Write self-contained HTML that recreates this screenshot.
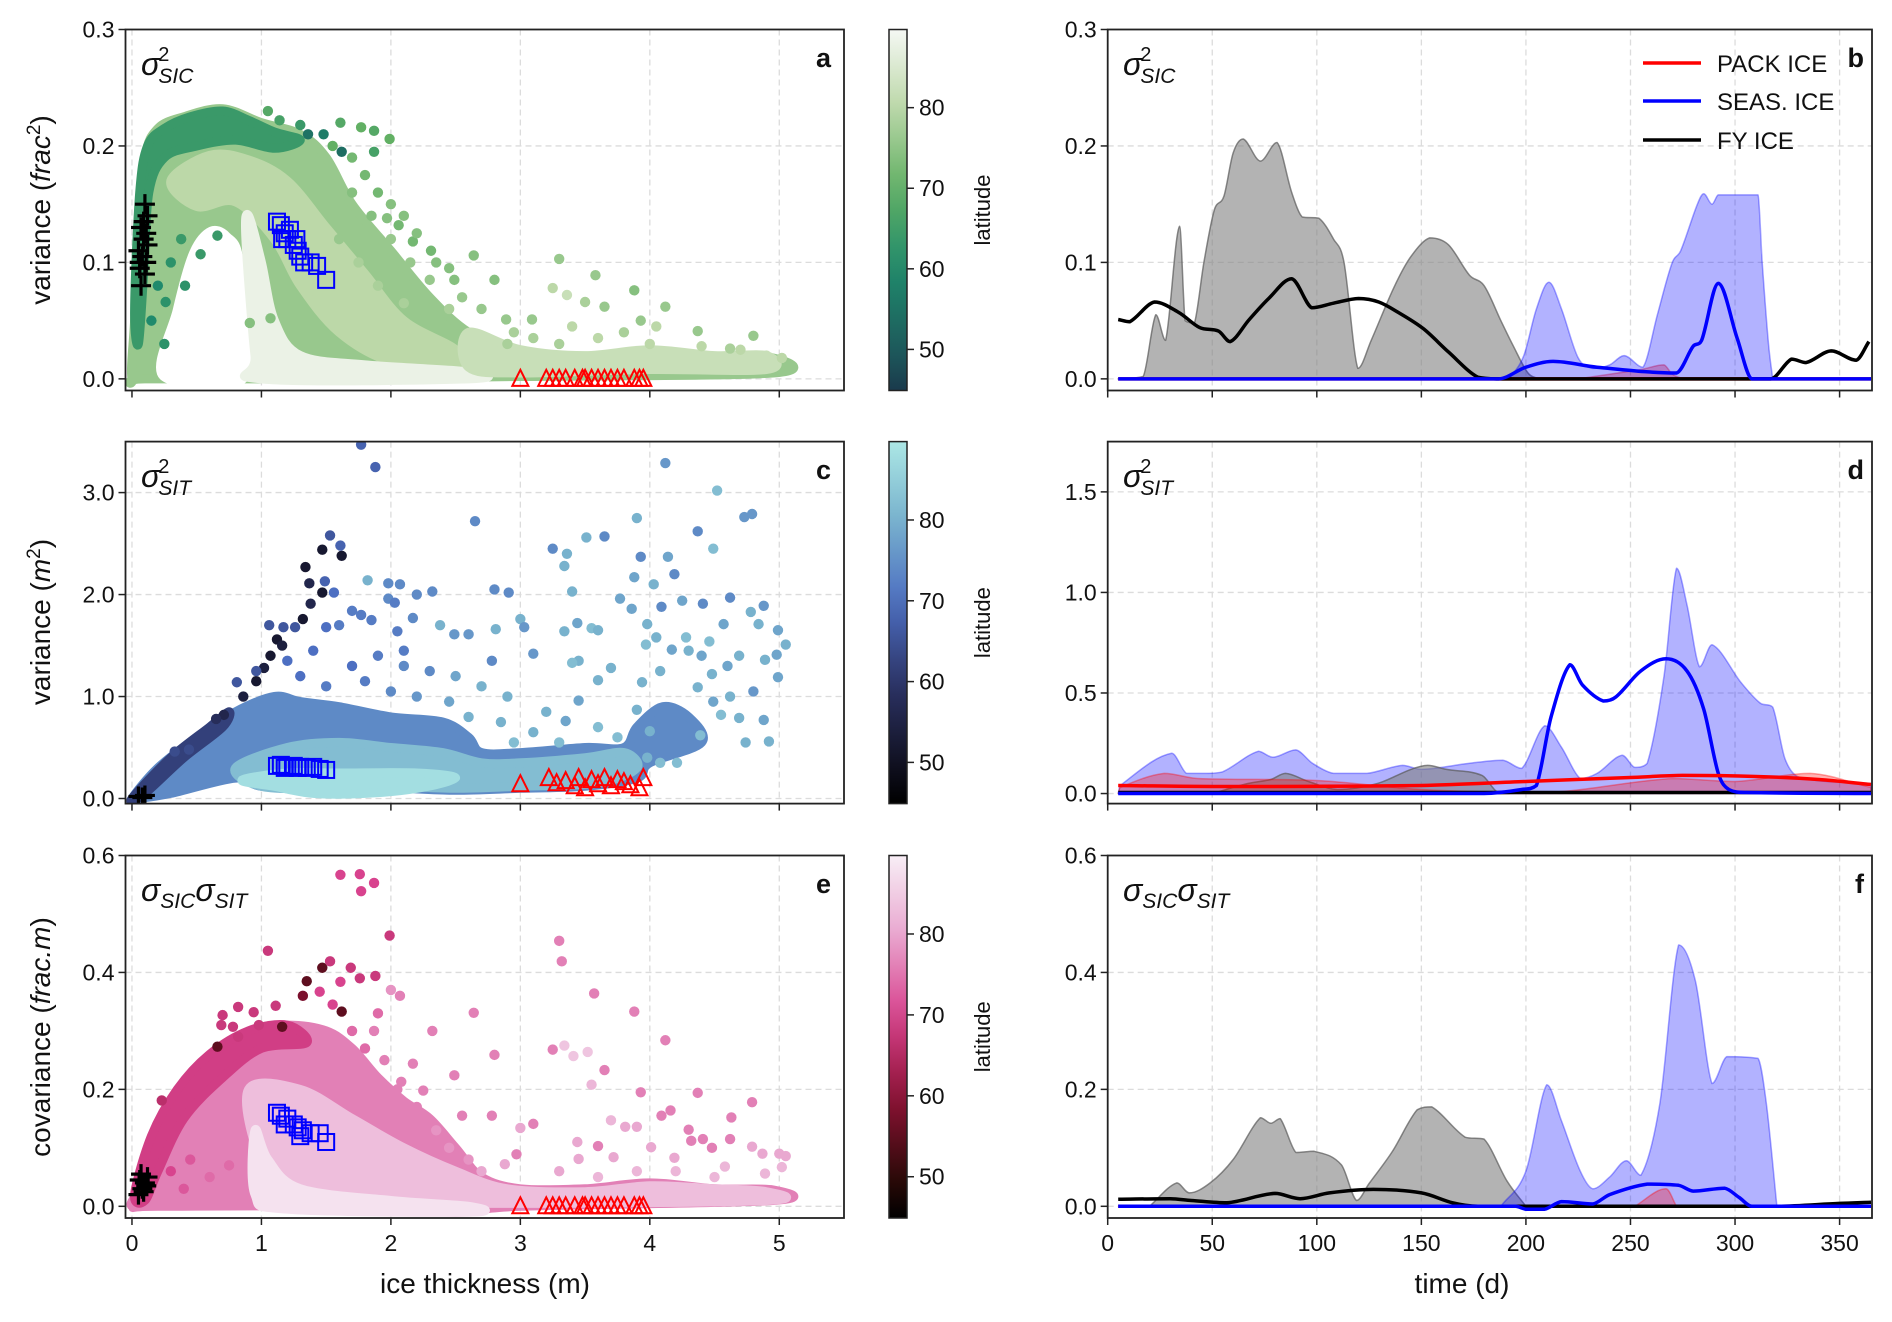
<!DOCTYPE html>
<html><head><meta charset="utf-8">
<style>
html,body{margin:0;padding:0;background:#fff;}
svg{display:block;font-family:"Liberation Sans","DejaVu Sans",sans-serif;}
</style></head>
<body>
<svg id="fig" width="1892" height="1322" viewBox="0 0 1892 1322" xmlns="http://www.w3.org/2000/svg"></svg>
<script>
// ---------------- DATA ----------------
const aPoints=[[1.05,0.23,68],[1.14,0.222,66],[1.3,0.218,64],[1.61,0.22,68],[1.77,0.216,70],[1.87,0.213,68],[1.99,0.206,70],[1.87,0.195,66],[1.36,0.21,55],[1.48,0.21,57],[1.62,0.195,54],[2.64,0.106,74],[2.49,0.085,74],[2.8,0.085,74],[2.31,0.11,72],[2.17,0.118,72],[2.06,0.132,72],[1.97,0.138,74],[3.3,0.103,76],[3.58,0.089,76],[3.88,0.076,74],[3.5,0.066,78],[3.25,0.078,80],[3.36,0.072,82],[3.65,0.062,76],[4.12,0.062,76],[3.93,0.05,76],[3.09,0.051,76],[2.89,0.051,76],[4.37,0.041,76],[4.8,0.037,76],[4.62,0.026,78],[5.02,0.018,80],[0.91,0.048,74],[1.07,0.052,74],[0.41,0.08,62],[0.26,0.066,62],[0.53,0.107,64],[0.66,0.123,64],[3.3,0.03,78],[3.6,0.035,80],[4.0,0.03,80],[4.4,0.028,80],[4.9,0.02,82],[2.9,0.03,78],[3.8,0.04,78],[4.6,0.015,82],[1.55,0.2,70],[1.7,0.19,72],[1.8,0.175,72],[1.9,0.16,72],[2.0,0.15,74],[2.1,0.14,74],[2.2,0.125,74],[2.35,0.1,74],[2.45,0.095,74],[2.55,0.07,76],[2.7,0.06,76],[2.95,0.04,78],[3.1,0.035,78],[1.7,0.16,74],[1.85,0.14,74],[2.0,0.12,76],[2.15,0.1,76],[2.3,0.085,76],[2.45,0.06,78],[1.6,0.12,76],[1.75,0.1,78],[1.9,0.08,78],[2.1,0.065,78],[0.3,0.1,62],[0.2,0.08,60],[0.15,0.05,60],[0.25,0.03,62],[0.38,0.12,64],[4.2,0.02,82],[4.7,0.025,80],[3.4,0.045,80],[4.05,0.045,80]];
const aCloudLat=[76,64,80,0,88,82];
const aClouds=[
[[0,0],[0.02,0.05],[0.05,0.12],[0.1,0.19],[0.2,0.215],[0.4,0.225],[0.7,0.232],[1.0,0.22],[1.3,0.21],[1.5,0.19],[1.7,0.15],[2.0,0.11],[2.3,0.07],[2.6,0.04],[3.0,0.02],[3.5,0.015],[4.0,0.015],[4.5,0.015],[4.95,0.018],[4.95,0.005],[3.0,0.002],[1.2,0.0],[0.1,0.0]],
[[0.02,0.06],[0.06,0.16],[0.12,0.2],[0.25,0.215],[0.45,0.225],[0.7,0.23],[0.9,0.222],[1.1,0.212],[1.3,0.205],[1.1,0.198],[0.8,0.205],[0.5,0.2],[0.25,0.19],[0.13,0.16],[0.09,0.09],[0.05,0.03]],
[[0.3,0.17],[0.6,0.192],[0.9,0.188],[1.2,0.17],[1.5,0.13],[1.8,0.09],[2.1,0.05],[2.5,0.025],[2.5,0.01],[2.0,0.015],[1.6,0.04],[1.3,0.08],[1.1,0.12],[0.8,0.152],[0.5,0.148]],
[[0.22,0.0],[0.32,0.06],[0.45,0.11],[0.6,0.13],[0.75,0.125],[0.86,0.1],[0.9,0.0]],
[[0.9,0.14],[1.0,0.1],[1.1,0.05],[1.3,0.02],[1.8,0.012],[2.6,0.006],[2.6,0],[1.0,0],[0.95,0.02],[0.88,0.12]],
[[2.6,0.04],[3.0,0.025],[3.5,0.02],[4.0,0.025],[4.5,0.02],[4.9,0.02],[4.9,0.008],[4.0,0.008],[3.0,0.005],[2.6,0.01]]];
const aPlus=[[0.07,0.08],[0.1,0.09],[0.06,0.095],[0.11,0.1],[0.08,0.105],[0.05,0.11],[0.12,0.115],[0.09,0.12],[0.11,0.125],[0.07,0.13],[0.12,0.14],[0.1,0.15],[0.06,0.1],[0.09,0.135]];
const aSquares=[[1.12,0.135],[1.15,0.132],[1.18,0.125],[1.2,0.12],[1.22,0.128],[1.25,0.115],[1.28,0.11],[1.3,0.105],[1.33,0.1],[1.38,0.1],[1.43,0.097],[1.5,0.085],[1.27,0.12],[1.16,0.12]];
const aTriangles=[[3.0,0],[3.2,0],[3.25,0],[3.3,0],[3.35,0],[3.42,0],[3.48,0],[3.5,0],[3.55,0],[3.6,0],[3.65,0],[3.7,0],[3.75,0],[3.8,0],[3.88,0],[3.92,0],[3.95,0]];

const cPoints=[[1.77,3.47,68],[1.88,3.25,68],[4.12,3.29,76],[4.52,3.02,82],[4.73,2.76,76],[4.79,2.79,76],[2.65,2.72,74],[3.9,2.75,80],[3.51,2.56,80],[3.65,2.57,74],[3.25,2.45,74],[3.36,2.4,80],[3.34,2.28,80],[4.37,2.62,74],[4.49,2.45,82],[3.93,2.37,74],[4.14,2.37,78],[4.19,2.2,74],[3.88,2.17,78],[4.03,2.1,80],[3.4,2.03,80],[3.77,1.96,78],[3.86,1.86,78],[4.09,1.88,74],[4.25,1.94,78],[4.41,1.91,74],[4.62,1.97,74],[4.88,1.89,76],[4.78,1.83,80],[4.99,1.65,78],[5.05,1.51,80],[4.98,1.41,78],[4.89,1.36,80],[4.99,1.19,78],[4.69,1.4,80],[4.6,1.3,78],[4.48,1.22,80],[4.4,1.4,78],[4.37,1.09,80],[4.8,1.05,76],[4.62,1.0,80],[4.49,0.95,78],[4.69,0.79,80],[4.88,0.77,78],[4.74,0.55,80],[4.92,0.56,80],[4.55,0.82,82],[4.39,0.62,82],[4.21,0.35,82],[4.08,0.35,82],[3.98,0.4,80],[4.0,0.66,80],[3.9,0.87,80],[3.94,1.14,80],[4.08,1.25,80],[3.97,1.51,82],[4.05,1.58,80],[4.17,1.46,78],[4.3,1.45,80],[4.46,1.54,82],[4.57,1.71,78],[4.84,1.71,80],[4.28,1.58,82],[3.98,1.71,80],[3.44,1.72,78],[3.55,1.67,82],[3.6,1.65,80],[3.34,1.64,80],[3.45,1.35,80],[3.4,1.33,82],[3.6,1.16,80],[3.7,1.28,80],[3.45,0.96,78],[3.35,0.76,78],[3.0,1.76,80],[3.03,1.68,76],[3.1,1.42,76],[2.81,1.66,80],[2.78,1.35,74],[2.91,2.02,74],[2.8,2.05,74],[2.6,1.61,76],[2.49,1.61,76],[2.38,1.7,80],[2.32,2.03,74],[2.2,2.0,74],[2.07,2.1,74],[1.98,2.11,74],[1.98,1.96,74],[2.03,1.92,72],[2.17,1.77,74],[2.05,1.64,72],[1.82,2.14,80],[1.47,2.44,52],[1.62,2.38,52],[1.34,2.27,52],[1.37,2.11,56],[1.47,2.02,52],[1.38,1.91,56],[1.32,1.76,52],[1.12,1.56,52],[1.16,1.5,54],[1.07,1.4,52],[1.02,1.28,54],[0.96,1.15,52],[0.86,1.0,54],[0.71,0.82,56],[0.65,0.78,58],[1.53,2.58,66],[1.61,2.48,68],[1.49,2.13,68],[1.56,2.02,70],[1.06,1.7,66],[1.17,1.68,66],[1.26,1.68,66],[1.5,1.68,70],[1.6,1.7,72],[1.7,1.84,72],[1.77,1.8,72],[1.85,1.75,72],[0.81,1.14,66],[0.96,1.25,66],[0.33,0.46,64],[0.44,0.48,64],[2.1,1.3,74],[2.3,1.25,74],[2.5,1.2,78],[2.7,1.1,80],[2.9,1.0,80],[2.1,1.45,72],[1.9,1.4,72],[1.7,1.3,70],[2.45,0.95,78],[2.6,0.8,80],[1.3,1.2,70],[1.5,1.1,72],[1.2,1.35,70],[1.4,1.45,70],[1.8,1.15,72],[2.0,1.05,74],[2.2,1.0,76],[2.85,0.75,80],[3.1,0.65,80],[3.2,0.85,80],[2.95,0.55,82],[3.3,0.55,82],[3.6,0.7,82],[3.75,0.6,82]];
const cCloudLat=[74,82,88,62];
const cClouds=[
[[0,0],[0.2,0.3],[0.5,0.6],[0.8,0.85],[1.1,1.0],[1.3,0.95],[1.6,0.9],[2.0,0.8],[2.4,0.75],[2.6,0.6],[2.7,0.45],[3.0,0.45],[3.5,0.5],[3.8,0.5],[3.9,0.7],[4.1,0.9],[4.3,0.8],[4.4,0.55],[4.0,0.35],[3.9,0.2],[3.5,0.12],[3.0,0.1],[2.5,0.08],[2.0,0.1],[1.5,0.08],[1.0,0.12],[0.8,0.2],[0.3,0.05],[0.05,0]],
[[0.8,0.3],[1.2,0.5],[1.6,0.55],[2.0,0.5],[2.4,0.45],[2.7,0.35],[3.0,0.35],[3.5,0.4],[3.8,0.45],[3.9,0.3],[3.6,0.15],[3.0,0.12],[2.5,0.1],[2.0,0.12],[1.5,0.1],[1.0,0.12]],
[[0.85,0.18],[1.1,0.12],[1.4,0.05],[1.8,0.05],[2.2,0.1],[2.5,0.2],[2.2,0.25],[1.6,0.25],[1.2,0.25]],
[[0.0,0.0],[0.3,0.4],[0.6,0.7],[0.75,0.85],[0.7,0.7],[0.4,0.4],[0.1,0.05]]];
const cPlus=[[0.05,0.02],[0.1,0.03],[0.08,0.01]];
const cSquares=[[1.12,0.32],[1.15,0.33],[1.18,0.3],[1.2,0.31],[1.25,0.32],[1.28,0.3],[1.3,0.31],[1.35,0.3],[1.4,0.31],[1.45,0.29],[1.5,0.28]];
const cTriangles=[[3.0,0.14],[3.22,0.2],[3.28,0.15],[3.35,0.17],[3.42,0.12],[3.45,0.2],[3.5,0.1],[3.55,0.18],[3.6,0.14],[3.65,0.2],[3.7,0.12],[3.75,0.18],[3.8,0.16],[3.85,0.13],[3.95,0.2],[3.92,0.1]];

const ePoints=[[1.61,0.567,70],[1.76,0.568,70],[1.77,0.539,70],[1.87,0.553,70],[1.99,0.463,68],[1.05,0.437,68],[3.3,0.454,76],[3.32,0.419,76],[3.57,0.364,76],[3.88,0.333,76],[4.12,0.284,76],[2.64,0.331,76],[2.32,0.3,76],[2.8,0.259,76],[3.25,0.268,76],[3.34,0.275,84],[3.41,0.257,84],[3.52,0.264,84],[3.65,0.233,76],[3.55,0.208,82],[3.93,0.195,76],[4.37,0.194,76],[4.79,0.178,76],[4.16,0.164,76],[4.09,0.155,76],[4.63,0.152,76],[4.3,0.131,76],[3.7,0.147,82],[3.81,0.136,80],[3.9,0.136,80],[4.32,0.112,76],[4.41,0.115,76],[4.62,0.115,76],[4.79,0.102,80],[4.48,0.1,76],[5.0,0.09,80],[5.05,0.086,80],[4.87,0.09,80],[3.6,0.103,76],[4.01,0.101,80],[3.44,0.11,80],[3.45,0.081,80],[4.19,0.083,80],[3.72,0.084,80],[3.0,0.134,80],[3.1,0.141,76],[2.78,0.155,76],[2.55,0.155,76],[2.49,0.224,76],[2.17,0.244,76],[2.25,0.198,76],[2.08,0.213,76],[2.97,0.089,76],[2.88,0.072,80],[4.89,0.056,82],[5.02,0.067,82],[4.58,0.068,82],[1.47,0.408,55],[1.35,0.385,55],[1.32,0.36,58],[1.16,0.307,55],[1.11,0.343,68],[0.66,0.273,55],[0.82,0.29,68],[0.98,0.31,68],[0.23,0.181,66],[1.62,0.333,55],[1.53,0.419,68],[1.69,0.408,68],[1.76,0.39,68],[1.88,0.394,68],[1.61,0.384,70],[1.45,0.367,70],[1.55,0.345,70],[0.7,0.327,68],[0.82,0.341,68],[0.69,0.31,68],[0.78,0.307,68],[0.94,0.332,68],[1.9,0.33,74],[2.0,0.37,78],[2.07,0.36,76],[1.87,0.3,76],[1.7,0.3,74],[1.8,0.27,74],[1.95,0.25,76],[2.05,0.2,76],[2.2,0.17,76],[2.35,0.13,78],[2.45,0.1,78],[2.6,0.08,78],[2.7,0.06,80],[0.3,0.06,70],[0.45,0.08,72],[0.6,0.05,74],[0.75,0.07,74],[0.4,0.03,72],[3.3,0.06,80],[3.6,0.05,82],[4.2,0.06,82],[4.5,0.05,82],[3.9,0.06,82]];
const eCloudLat=[76,69,83,88];
const eClouds=[
[[0,0],[0.05,0.03],[0.2,0.12],[0.4,0.2],[0.6,0.25],[0.9,0.3],[1.2,0.31],[1.5,0.3],[1.7,0.27],[1.9,0.22],[2.1,0.18],[2.3,0.15],[2.5,0.1],[2.7,0.05],[3.0,0.03],[3.5,0.03],[4.0,0.04],[4.5,0.03],[4.95,0.028],[4.95,0.01],[3,0.0],[2.5,-0.01],[1.5,0.0],[0.2,0.0]],
[[0.02,0.02],[0.15,0.12],[0.35,0.2],[0.6,0.26],[0.9,0.3],[1.2,0.31],[1.35,0.28],[1.0,0.27],[0.7,0.22],[0.4,0.15],[0.2,0.06],[0.1,0.01]],
[[0.9,0.2],[1.3,0.2],[1.7,0.15],[2.1,0.1],[2.5,0.06],[2.9,0.03],[3.5,0.025],[4.0,0.035],[4.5,0.03],[4.9,0.025],[4.9,0.01],[3.0,0.005],[2.0,0.01],[1.3,0.03],[1.0,0.08]],
[[0.95,0.13],[1.05,0.08],[1.3,0.03],[2.0,0.01],[2.6,0.0],[2.6,-0.01],[1.2,-0.005],[0.95,0.02]]];
const ePlus=[[0.05,0.02],[0.08,0.03],[0.1,0.04],[0.06,0.045],[0.12,0.05],[0.09,0.025],[0.11,0.035],[0.07,0.055]];
const eSquares=[[1.12,0.16],[1.15,0.155],[1.2,0.15],[1.25,0.14],[1.28,0.135],[1.32,0.13],[1.38,0.125],[1.45,0.125],[1.5,0.11],[1.18,0.14],[1.3,0.12]];
const eTriangles=aTriangles;

const bGrayDays=[5,17,23,27.7,34.4,37,41.5,46,51,55.6,60,64.8,73,81,88,93,101,108,113,119.6,126,137,145,154,163,173,180,188,194,201,206];
const bGrayVals=[0,0.002,0.055,0.033,0.131,0.05,0.048,0.1,0.145,0.157,0.194,0.206,0.187,0.203,0.16,0.139,0.138,0.12,0.1,0.009,0.033,0.079,0.105,0.121,0.115,0.089,0.08,0.05,0.028,0.005,0];
const bBlueDays=[192,199,205,211,217,225,232,240,247,256,263,270,274,282,285,289,292,311,313,316,318];
const bBlueVals=[0,0.02,0.06,0.083,0.06,0.018,0.009,0.012,0.02,0.01,0.056,0.1,0.11,0.15,0.159,0.15,0.158,0.158,0.1,0.03,0];
const bRedDays=[225,240,255,266,270,275];
const bRedVals=[0,0.004,0.008,0.012,0.004,0];
const bBlackDays=[5,10.5,22.4,34,44,53,58.6,67.7,77,88,97.5,108,120,129.6,139,151,163,177,187,317,327,334,346,358,364];
const bBlackVals=[0.051,0.049,0.066,0.057,0.044,0.041,0.032,0.051,0.069,0.086,0.061,0.065,0.069,0.066,0.057,0.043,0.023,0.0014,0,0,0.017,0.014,0.024,0.016,0.032];
const bBlueLineDays=[5,187,200,213,234,272,280,284,292,301,308,365];
const bBlueLineVals=[0,0,0.01,0.015,0.01,0.005,0.028,0.033,0.082,0.035,0,0];
const bRedLineDays=[5,365];
const bRedLineVals=[0,0];

const dBlueDays=[5,6,30.6,37.7,47,55,72,79,90,98,108,124,141,150,174,189,198,209,217,226,234,246,252,258,266,272,277,283,289,303,312,318,324,331,365];
const dBlueVals=[0,0.04,0.2,0.1,0.1,0.108,0.21,0.18,0.217,0.15,0.1,0.1,0.14,0.12,0.152,0.166,0.125,0.337,0.23,0.075,0.1,0.19,0.13,0.15,0.58,1.12,0.94,0.63,0.74,0.55,0.45,0.43,0.17,0.08,0.05];
const dGrayDays=[50,67,78,85,96,110,129,145,153,162,179,186,192];
const dGrayVals=[0,0.05,0.07,0.1,0.06,0.02,0.05,0.12,0.14,0.12,0.09,0.01,0];
const dRedDays=[5,6,27,43,100,150,210,270,300,336,365];
const dRedVals=[0,0.03,0.1,0.075,0.065,0.02,0.005,0.075,0.06,0.1,0.03];
const dRedLineDays=[5,50,150,200,250,275,310,340,365];
const dRedLineVals=[0.04,0.035,0.04,0.06,0.08,0.09,0.085,0.07,0.045];
const dBlueLineDays=[5,180,198,205,212,221,227,237,243,255,267,277,285,292,297,305,365];
const dBlueLineVals=[0,0,0.02,0.04,0.38,0.64,0.54,0.46,0.48,0.61,0.67,0.61,0.42,0.1,0.02,0.005,0];
const dBlackDays=[5,365];
const dBlackVals=[0.005,0.005];

const fGrayDays=[20,33,39,49,60,73,78,82.5,90,98.7,111.7,119,125,136,148,155,171,180,191,200];
const fGrayVals=[0,0.04,0.023,0.04,0.08,0.1515,0.142,0.15,0.092,0.094,0.071,0.01,0.039,0.093,0.165,0.17,0.118,0.115,0.043,0];
const fBlueDays=[188,200,210,217,226,232,240,248,255,264,273,281,289,296,311,315,320];
const fBlueVals=[0,0.06,0.208,0.146,0.06,0.03,0.05,0.078,0.053,0.175,0.447,0.386,0.21,0.256,0.253,0.175,0];
const fRedDays=[252,267,272];
const fRedVals=[0,0.03,0];
const fBlackDays=[5,30,40,57,80,92,106,127,150,165,177,320,350,365];
const fBlackVals=[0.012,0.013,0.01,0.006,0.022,0.013,0.023,0.029,0.023,0.006,0,0,0.005,0.007];
const fBlueLineDays=[5,195,200,209,217,232,240,258,273,280,295,302,308,365];
const fBlueLineVals=[0,0,-0.005,-0.005,0.008,0.004,0.02,0.038,0.036,0.026,0.031,0.015,0,0];
const fRedLineDays=[5,365];
const fRedLineVals=[0,0];

const leftXTicks=[0,1,2,3,4,5];
const rightXTicks=[0,50,100,150,200,250,300,350];
const cbTicks=[80,70,60,50];

// ---------------- RENDER ----------------
const NS='http://www.w3.org/2000/svg';
const svg=document.getElementById('fig');
function el(tag,attrs,parent){const e=document.createElementNS(NS,tag);for(const k in attrs)e.setAttribute(k,attrs[k]);(parent||svg).appendChild(e);return e;}
function lerp(a,b,t){return a+(b-a)*t;}
function hex(c){return [parseInt(c.slice(1,3),16),parseInt(c.slice(3,5),16),parseInt(c.slice(5,7),16)];}
function cmapFn(stops){return function(v){for(let i=0;i<stops.length-1;i++){const[a,ca]=stops[i],[b,cb]=stops[i+1];if(v<=b||i===stops.length-2){let t=Math.max(0,Math.min(1,(v-a)/(b-a)));const A=hex(ca),B=hex(cb);return 'rgb('+A.map((x,j)=>Math.round(lerp(x,B[j],t))).join(',')+')';}}};}
const cmapGreen=cmapFn([[45,'#1a3a4c'],[50,'#1d5a5c'],[60,'#1f8a6c'],[70,'#62b064'],[80,'#bcd8a8'],[90,'#f7f9f6']]);
const cmapBlue=cmapFn([[45,'#000000'],[50,'#111122'],[60,'#2d3468'],[70,'#4d6fc2'],[80,'#78b2cd'],[90,'#aee9e6']]);
const cmapPink=cmapFn([[45,'#000000'],[50,'#2e0a08'],[60,'#8e1236'],[70,'#d8438e'],[80,'#e9a8d0'],[90,'#f8f0f7']]);

const LX0=125.5,LX1=844,RX0=1107.7,RX1=1872;
const rows=[{t:29.5,b:390.5},{t:441.6,b:803.6},{t:855.5,b:1218}];
function scaleX(lo,hi,p0,p1){return v=>p0+(v-lo)/(hi-lo)*(p1-p0);}
function scaleY(lo,hi,p0,p1){return v=>p1-(v-lo)/(hi-lo)*(p1-p0);}

function smoothPath(P,closed){
  const n=P.length;if(n<3)return P.map((p,i)=>(i?'L':'M')+p[0].toFixed(1)+','+p[1].toFixed(1)).join('')+(closed?'Z':'');
  const get=i=>closed?P[(i+n)%n]:P[Math.max(0,Math.min(n-1,i))];
  let d='M'+P[0][0].toFixed(1)+','+P[0][1].toFixed(1);const k=closed?n:n-1;
  for(let i=0;i<k;i++){const p0=get(i-1),p1=get(i),p2=get(i+1),p3=get(i+2);
    const c1=[p1[0]+(p2[0]-p0[0])/6,p1[1]+(p2[1]-p0[1])/6],c2=[p2[0]-(p3[0]-p1[0])/6,p2[1]-(p3[1]-p1[1])/6];
    d+='C'+c1[0].toFixed(1)+','+c1[1].toFixed(1)+' '+c2[0].toFixed(1)+','+c2[1].toFixed(1)+' '+p2[0].toFixed(1)+','+p2[1].toFixed(1);}
  return d+(closed?'Z':'');
}
function seriesPath(P){
  let d='M'+P[0][0].toFixed(1)+','+P[0][1].toFixed(1);
  for(let i=0;i<P.length-1;i++){const p0=P[Math.max(0,i-1)],p1=P[i],p2=P[i+1],p3=P[Math.min(P.length-1,i+2)];
    const dx=p2[0]-p1[0];
    let m1=(p2[1]-p0[1])/((p2[0]-p0[0])||1),m2=(p3[1]-p1[1])/((p3[0]-p1[0])||1);const s=(p2[1]-p1[1])/(dx||1);
    if(s===0||m1*s<=0)m1=0;if(s===0||m2*s<=0)m2=0;
    m1=Math.sign(m1)*Math.min(Math.abs(m1),3*Math.abs(s));m2=Math.sign(m2)*Math.min(Math.abs(m2),3*Math.abs(s));
    d+='C'+(p1[0]+dx/3).toFixed(1)+','+(p1[1]+m1*dx/3).toFixed(1)+' '+(p2[0]-dx/3).toFixed(1)+','+(p2[1]-m2*dx/3).toFixed(1)+' '+p2[0].toFixed(1)+','+p2[1].toFixed(1);}
  return d;
}

function axesFrame(name,x0,x1,t,b,xs,ys,xt,yt,ydec,showXLabels){
  const g=el('g',{});
  
  
  const cid='clip-'+name;
  const cp=el('clipPath',{id:cid},g);el('rect',{x:x0,y:t,width:x1-x0,height:b-t},cp);
  xt.forEach(v=>{el('line',{x1:xs(v),x2:xs(v),y1:t,y2:b,stroke:'#dcdcdc','stroke-width':1.3,'stroke-dasharray':'6,4'},g);});
  yt.forEach(v=>{el('line',{x1:x0,x2:x1,y1:ys(v),y2:ys(v),stroke:'#dcdcdc','stroke-width':1.3,'stroke-dasharray':'6,4'},g);});
  const plot=el('g',{'clip-path':'url(#'+cid+')'},g);
  return {g,plot,finish:function(){
    el('rect',{x:x0,y:t,width:x1-x0,height:b-t,fill:'none',stroke:'#222','stroke-width':1.8},g);
    xt.forEach(v=>{el('line',{x1:xs(v),x2:xs(v),y1:b,y2:b+7,stroke:'#222','stroke-width':1.5},g);
      if(showXLabels){const tx=el('text',{x:xs(v),y:b+33,'font-size':23,'text-anchor':'middle',fill:'#111'},g);tx.textContent=String(v);}});
    yt.forEach(v=>{el('line',{x1:x0-7,x2:x0,y1:ys(v),y2:ys(v),stroke:'#222','stroke-width':1.5},g);
      const tx=el('text',{x:x0-11,y:ys(v)+8,'font-size':23,'text-anchor':'end',fill:'#111'},g);tx.textContent=v.toFixed(ydec);});
  }};
}

function scatterPanel(name,row,ylo,yhi,yt,ydec,cmap,clouds,cloudLat,points,plus,squares,tris,showX){
  const xs=scaleX(-0.05,5.5,LX0,LX1),ys=scaleY(ylo,yhi,rows[row].t,rows[row].b);
  const ax=axesFrame(name,LX0,LX1,rows[row].t,rows[row].b,xs,ys,leftXTicks,yt,ydec,showX);
  clouds.forEach((poly,i)=>{
    const hole=cloudLat[i]===0;
    const col=hole?'#ffffff':cmap(cloudLat[i]);
    const P=poly.map(p=>[xs(p[0]),ys(p[1])]);
    const p=el('path',{d:smoothPath(P,true),fill:col,stroke:col,'stroke-width':hole?1:9,'stroke-linejoin':'round'},ax.plot);
    
    
  });
  points.forEach(p=>{const c=el('circle',{cx:xs(p[0]),cy:ys(p[1]),r:5.2,fill:cmap(p[2])},ax.plot);
    
    });
  plus.forEach(p=>{const x=xs(p[0]),y=ys(p[1]);const m=el('path',{d:`M${x-10},${y}H${x+10}M${x},${y-10}V${y+10}`,stroke:'#000','stroke-width':3.2},ax.plot);
    
    });
  squares.forEach(p=>{const x=xs(p[0]),y=ys(p[1]);const m=el('rect',{x:x-8,y:y-8,width:16,height:16,fill:'none',stroke:'#0000ff','stroke-width':2},ax.plot);
    
    });
  tris.forEach(p=>{const x=xs(p[0]),y=ys(p[1]);const m=el('path',{d:`M${x},${y-9}L${x+8},${y+7}L${x-8},${y+7}Z`,fill:'none',stroke:'#ff0000','stroke-width':2},ax.plot);
    
    });
  ax.finish();
}
function tsPanel(name,row,ylo,yhi,yt,ydec,fills,lines,showX){
  const xs=scaleX(0,365.5,RX0,RX1),ys=scaleY(ylo,yhi,rows[row].t,rows[row].b);
  const ax=axesFrame(name,RX0,RX1,rows[row].t,rows[row].b,xs,ys,rightXTicks,yt,ydec,showX);
  fills.forEach(f=>{const[days,vals,fill,edge,nm]=f;
    const P=days.map((dd,i)=>[xs(dd),ys(vals[i])]);
    const d=seriesPath(P)+'L'+xs(days[days.length-1]).toFixed(1)+','+ys(0).toFixed(1)+'L'+xs(days[0]).toFixed(1)+','+ys(0).toFixed(1)+'Z';
    const p=el('path',{d,fill,stroke:edge,'stroke-width':1.5,'stroke-linejoin':'round'},ax.plot);
    
    });
  lines.forEach(l=>{const[days,vals,col,nm]=l;
    const P=days.map((dd,i)=>[xs(dd),ys(vals[i])]);
    const p=el('path',{d:seriesPath(P),fill:'none',stroke:col,'stroke-width':3.5,'stroke-linejoin':'round'},ax.plot);
    
    });
  ax.finish();
}
const GF='rgba(128,128,128,0.6)',GE='rgba(90,90,90,0.7)',BF='rgba(0,0,255,0.3)',BE='rgba(0,0,255,0.35)',RF='rgba(255,0,0,0.3)',RE='rgba(255,0,0,0.35)';

scatterPanel('panel-a',0,-0.01,0.3,[0,0.1,0.2,0.3],1,cmapGreen,aClouds,aCloudLat,aPoints,aPlus,aSquares,aTriangles,false);
scatterPanel('panel-c',1,-0.05,3.5,[0,1,2,3],1,cmapBlue,cClouds,cCloudLat,cPoints,cPlus,cSquares,cTriangles,false);
scatterPanel('panel-e',2,-0.02,0.6,[0,0.2,0.4,0.6],1,cmapPink,eClouds,eCloudLat,ePoints,ePlus,eSquares,eTriangles,true);

tsPanel('panel-b',0,-0.01,0.3,[0,0.1,0.2,0.3],1,
  [[bGrayDays,bGrayVals,GF,GE,'fy-ice-fill'],[bRedDays,bRedVals,RF,RE,'pack-ice-fill'],[bBlueDays,bBlueVals,BF,BE,'seasonal-ice-fill']],
  [[bRedLineDays,bRedLineVals,'#ff0000','pack-ice-line'],[bBlackDays,bBlackVals,'#000000','fy-ice-line'],[bBlueLineDays,bBlueLineVals,'#0000ff','seasonal-ice-line']],false);
tsPanel('panel-d',1,-0.05,1.75,[0,0.5,1.0,1.5],1,
  [[dBlueDays,dBlueVals,BF,BE,'seasonal-ice-fill'],[dGrayDays,dGrayVals,GF,GE,'fy-ice-fill'],[dRedDays,dRedVals,RF,RE,'pack-ice-fill']],
  [[dBlackDays,dBlackVals,'#000000','fy-ice-line'],[dBlueLineDays,dBlueLineVals,'#0000ff','seasonal-ice-line'],[dRedLineDays,dRedLineVals,'#ff0000','pack-ice-line']],false);
tsPanel('panel-f',2,-0.02,0.6,[0,0.2,0.4,0.6],1,
  [[fGrayDays,fGrayVals,GF,GE,'fy-ice-fill'],[fBlueDays,fBlueVals,BF,BE,'seasonal-ice-fill'],[fRedDays,fRedVals,RF,RE,'pack-ice-fill']],
  [[fRedLineDays,fRedLineVals,'#ff0000','pack-ice-line'],[fBlackDays,fBlackVals,'#000000','fy-ice-line'],[fBlueLineDays,fBlueLineVals,'#0000ff','seasonal-ice-line']],true);

[['colorbar-a',0,cmapGreen],['colorbar-c',1,cmapBlue],['colorbar-e',2,cmapPink]].forEach(([nm,row,cm])=>{
  const t=rows[row].t,b=rows[row].b,x0=889,w=18;const ys=scaleY(44.9,89.7,t,b);
  const g=el('g',{});
  
  
  const gid='grad'+row;const lg=el('linearGradient',{id:gid,x1:0,y1:1,x2:0,y2:0},g);
  for(let i=0;i<=10;i++){el('stop',{offset:i/10,'stop-color':cm(44.9+i*4.48)},lg);}
  el('rect',{x:x0,y:t,width:w,height:b-t,fill:'url(#'+gid+')',stroke:'#222','stroke-width':1.5},g);
  cbTicks.forEach(v=>{el('line',{x1:x0+w,x2:x0+w+7,y1:ys(v),y2:ys(v),stroke:'#222','stroke-width':1.5},g);
    const tx=el('text',{x:x0+w+12,y:ys(v)+8,'font-size':23,fill:'#111'},g);tx.textContent=v;});
  const lt=el('text',{x:0,y:0,'font-size':22,'text-anchor':'middle',fill:'#111',transform:`translate(990,${(t+b)/2}) rotate(-90)`},g);lt.textContent='latitude';
  
  
});

function addText(name,x,y,size,html,opts){const t=el('text',Object.assign({x,y,'font-size':size,fill:'#111'},opts||{}));t.innerHTML=html;
  
  return t;}
addText('y-axis-title-a',0,0,28,'variance (<tspan font-style="italic">frac</tspan><tspan baseline-shift="super" font-size="19">2</tspan>)',{'text-anchor':'middle',transform:'translate(50,210) rotate(-90)'});
addText('y-axis-title-c',0,0,28,'variance (<tspan font-style="italic">m</tspan><tspan baseline-shift="super" font-size="19">2</tspan>)',{'text-anchor':'middle',transform:'translate(50,622) rotate(-90)'});
addText('y-axis-title-e',0,0,28,'covariance (<tspan font-style="italic">frac.m</tspan>)',{'text-anchor':'middle',transform:'translate(50,1037) rotate(-90)'});
addText('x-axis-title-left',485,1293,28,'ice thickness (m)',{'text-anchor':'middle'});
addText('x-axis-title-right',1462,1293,28,'time (d)',{'text-anchor':'middle'});
const sic='<tspan font-style="italic">σ</tspan><tspan font-size="20" dy="-14" dx="-2">2</tspan><tspan font-style="italic" font-size="21" dy="22" dx="-11">SIC</tspan>';
const sit='<tspan font-style="italic">σ</tspan><tspan font-size="20" dy="-14" dx="-2">2</tspan><tspan font-style="italic" font-size="21" dy="22" dx="-11">SIT</tspan>';
const cov='<tspan font-style="italic">σ</tspan><tspan font-style="italic" font-size="21" dy="7">SIC</tspan><tspan font-style="italic" dy="-7">σ</tspan><tspan font-style="italic" font-size="21" dy="7">SIT</tspan>';
addText('annotation-a',141,75,32,sic);
addText('annotation-b',1123,75,32,sic);
addText('annotation-c',141,487,32,sit);
addText('annotation-d',1123,487,32,sit);
addText('annotation-e',141,901,32,cov);
addText('annotation-f',1123,901,32,cov);
[['label-a',831,67,'a'],['label-b',1864,67,'b'],['label-c',831,479,'c'],['label-d',1864,479,'d'],['label-e',831,893,'e'],['label-f',1864,893,'f']].forEach(([n,x,y,s])=>addText(n,x,y,27,s,{'text-anchor':'end','font-weight':'bold'}));
const leg=el('g',{});


[['PACK ICE','#ff0000',63],['SEAS. ICE','#0000ff',101],['FY ICE','#000000',140]].forEach(([lab,col,y])=>{
  const ln=el('line',{x1:1643,x2:1701,y1:y,y2:y,stroke:col,'stroke-width':3.5},leg);
  
  
  const t=el('text',{x:1717,y:y+9,'font-size':24,fill:'#111'},leg);t.textContent=lab;
  
  
});
</script>
</body></html>
